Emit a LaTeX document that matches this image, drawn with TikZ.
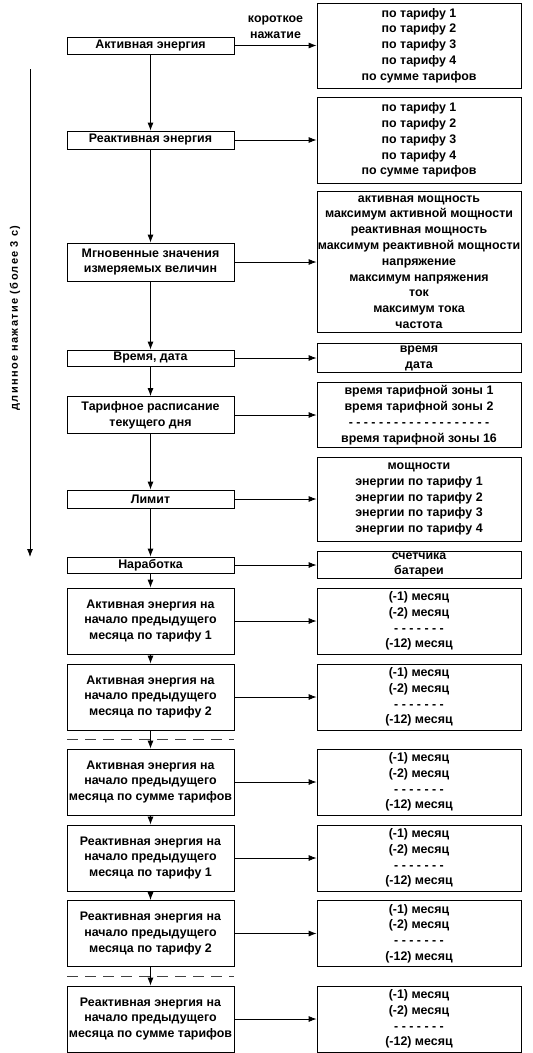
\documentclass[tikz,border=0pt]{standalone}
\usepackage{fontspec}
\setmainfont{Liberation Sans}
\usetikzlibrary{arrows.meta}

\begin{document}
\begin{tikzpicture}[x=1pt, y=-1pt,
    every node/.style={font=\bfseries\fontsize{12.4}{15.8}\selectfont},
    menu/.style={draw, line width=0.8pt, fill=white, minimum width=167pt, align=center, inner sep=0pt},
    values/.style={draw, line width=0.8pt, fill=white, minimum width=204pt, align=center, inner sep=0pt},
    arr/.style={line width=0.8pt, -{Latex[length=8pt, width=6pt]}},
    cut/.style={line width=0.9pt, black!75, dash pattern=on 11pt off 7pt}]
    \useasboundingbox (0,0) rectangle (533,1053);

    % Menu items (left column, top to bottom)
    \node[menu, minimum height=17pt] (act) at (150.5,45.5) {Активная энергия};
    \node[menu, minimum height=18pt] (react) at (150.5,140) {Реактивная энергия};
    \node[menu, minimum height=38pt] (inst) at (150.5,262) {Мгновенные значения\\измеряемых величин};
    \node[menu, minimum height=16pt] (clock) at (150.5,358) {Время, дата};
    \node[menu, minimum height=37pt] (sched) at (150.5,415) {Тарифное расписание\\текущего дня};
    \node[menu, minimum height=18pt] (limit) at (150.5,499) {Лимит};
    \node[menu, minimum height=16pt] (work) at (150.5,565) {Наработка};
    \node[menu, minimum height=66pt] (pa1) at (150.5,621) {Активная энергия на\\начало предыдущего\\месяца по тарифу 1};
    \node[menu, minimum height=66pt] (pa2) at (150.5,697) {Активная энергия на\\начало предыдущего\\месяца по тарифу 2};
    \node[menu, minimum height=66pt] (pas) at (150.5,782) {Активная энергия на\\начало предыдущего\\месяца по сумме тарифов};
    \node[menu, minimum height=66pt] (pr1) at (150.5,858) {Реактивная энергия на\\начало предыдущего\\месяца по тарифу 1};
    \node[menu, minimum height=66pt] (pr2) at (150.5,933.5) {Реактивная энергия на\\начало предыдущего\\месяца по тарифу 2};
    \node[menu, minimum height=66pt] (prs) at (150.5,1019) {Реактивная энергия на\\начало предыдущего\\месяца по сумме тарифов};

    % Values shown for each item (right column)
    \node[values, minimum height=85pt] (actv) at (419,45.5) {по тарифу 1\\по тарифу 2\\по тарифу 3\\по тарифу 4\\по сумме тарифов};
    \node[values, minimum height=86pt] (reactv) at (419,140) {по тарифу 1\\по тарифу 2\\по тарифу 3\\по тарифу 4\\по сумме тарифов};
    \node[values, minimum height=141pt] (instv) at (419,262) {активная мощность\\максимум активной мощности\\реактивная мощность\\максимум реактивной мощности\\напряжение\\максимум напряжения\\ток\\максимум тока\\частота};
    \node[values, minimum height=29pt] (clockv) at (419,358) {время\\дата};
    \node[values, minimum height=65pt] (schedv) at (419,415) {время тарифной зоны 1\\время тарифной зоны 2\\- - - - - - - - - - - - - - - - - - -\\время тарифной зоны 16};
    \node[values, minimum height=84pt] (limitv) at (419,499) {мощности\\энергии по тарифу 1\\энергии по тарифу 2\\энергии по тарифу 3\\энергии по тарифу 4};
    \node[values, minimum height=27pt] (workv) at (419,565) {счетчика\\батареи};
    \foreach \n in {pa1, pa2, pas, pr1, pr2, prs}
        \node[values, minimum height=66pt] (\n v) at (\n -| actv) {(-1) месяц\\(-2) месяц\\- - - - - - -\\(-12) месяц};

    % Long press: scroll down the list
    \coordinate (lstart) at (30,69);
    \coordinate (lend) at (30,557);
    \draw[arr] (lstart) -- (lend);
    \node[rotate=90, font=\bfseries\fontsize{11}{13}\selectfont] (longpress) at (15,318) {\addfontfeature{LetterSpace=12}длинное нажатие (более 3 с)};

    % Short press: values of the item
    \draw[arr] (act) -- (actv) node[midway, above, yshift=3pt, align=center] (shortpress) {короткое\\нажатие};
    \foreach \m in {react, inst, clock, sched, limit, work, pa1, pa2, pas, pr1, pr2, prs}
        \draw[arr] (\m) -- (\m v);

    % Steps between items
    \foreach \a/\b in {act/react, react/inst, inst/clock, clock/sched, sched/limit, limit/work, work/pa1, pa1/pa2, pa2/pas, pas/pr1, pr1/pr2, pr2/prs}
        \draw[arr] (\a) -- (\b);

    % Skipped tariffs
    \coordinate (cut1a) at (67,739);
    \coordinate (cut1b) at (234,739);
    \coordinate (cut2a) at (67,976);
    \coordinate (cut2b) at (234,976);
    \draw[cut] (cut1a) -- (cut1b);
    \draw[cut] (cut2a) -- (cut2b);
\end{tikzpicture}
\end{document}
